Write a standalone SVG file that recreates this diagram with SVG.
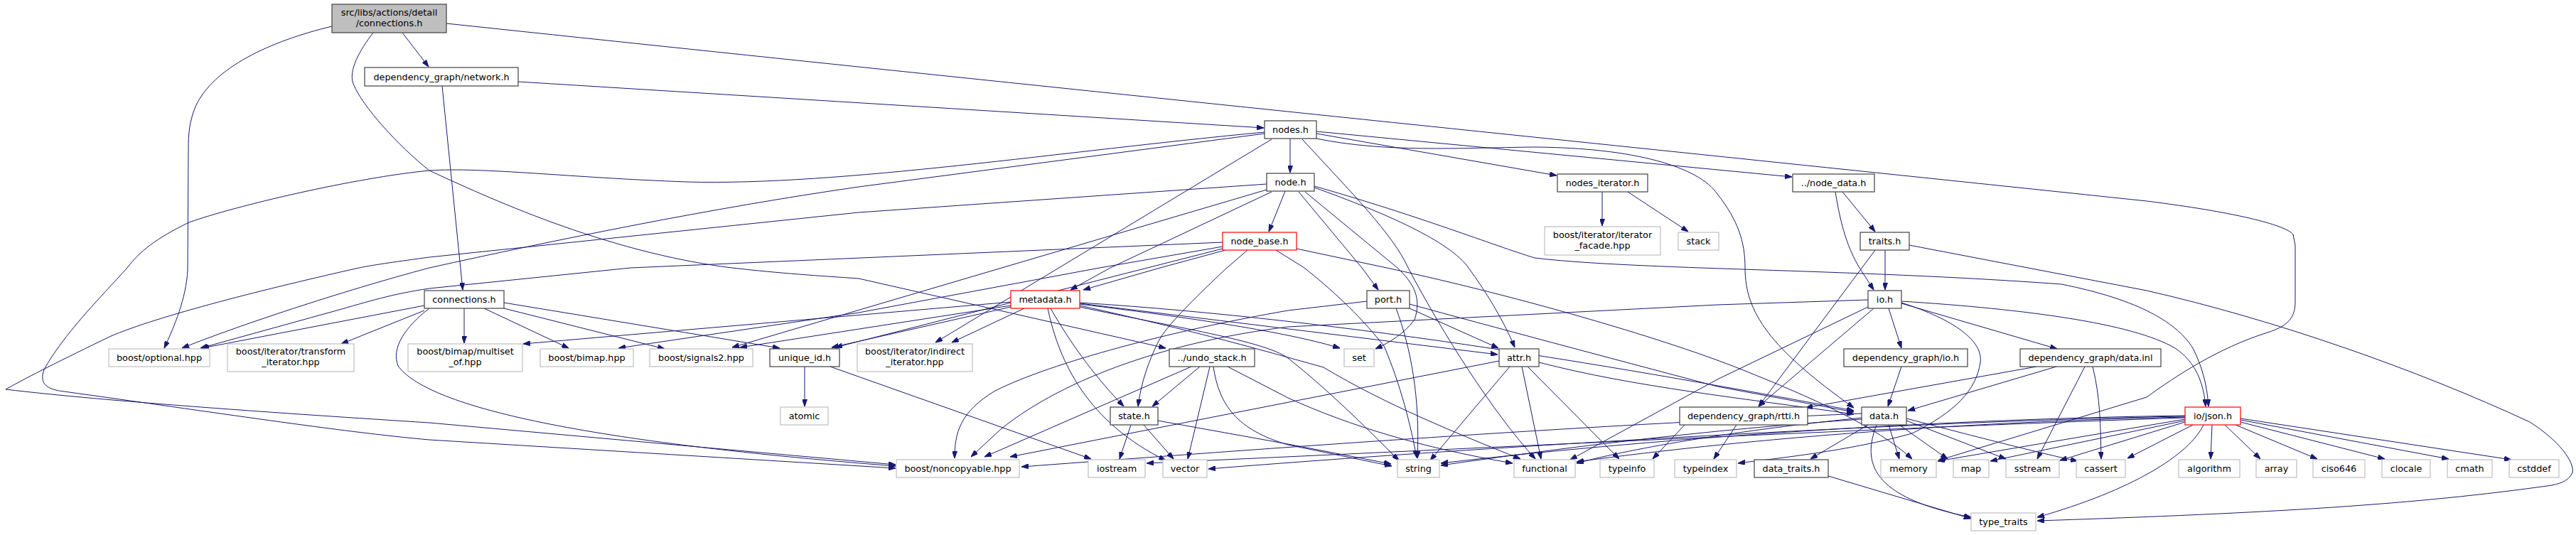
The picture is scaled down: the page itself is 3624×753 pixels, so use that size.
<svg xmlns="http://www.w3.org/2000/svg" width="3624" height="753" viewBox="0 0 3624 753">
<defs>
<marker id="a" markerWidth="10" markerHeight="7" refX="10" refY="3.5" orient="auto" markerUnits="userSpaceOnUse"><path d="M0,0L10,3.5L0,7z" fill="#191970" stroke="#191970" stroke-width="1"/></marker>
<style>
rect{fill:#fff;stroke:#404040;stroke-width:1.2}
.g rect{stroke:#bfbfbf}
.r rect{stroke:#ff0000}
.top rect{fill:#bfbfbf}
text{font-family:"DejaVu Sans",sans-serif;font-size:12.8px;text-anchor:middle;fill:#000}
#edges path{fill:none;stroke:#191970;stroke-width:1;marker-end:url(#a)}
</style>
</defs>
<rect x="0" y="0" width="3624" height="753" style="fill:#fff;stroke:none"/>
<g id="edges">
<path d="M566,46 L603,94"/>
<path d="M467,37 C380,58 300,95 275,150 C266,172 265,190 265,210 L264,380 C262,420 245,460 231,490"/>
<path d="M525,46 C505,72 490,100 497,118 C510,150 560,205 604,240 C680,275 850,355 1030,377 C1100,385 1150,388 1208,392 L1640,490"/>
<path d="M628,33 C1400,115 2500,228 3020,283 C3140,298 3215,316 3226,330 L3229,345 L3229,425 C3229,450 3215,460 3190,468 C3120,490 3060,530 3020,559 L2727,648"/>
<path d="M729,115 L1778,180"/>
<path d="M622,121 L651,408"/>
<path d="M1815,195 L1815,243"/>
<path d="M1852,188 L2190,247"/>
<path d="M1852,185 L2521,249"/>
<path d="M1779,188 L1208,263 C1000,293 780,338 604,377 C480,410 330,460 256,490"/>
<path d="M1779,186 C1500,212 1180,262 966,256 C800,250 680,235 604,240 C500,250 330,290 266,313 C220,335 195,355 179,377 C140,420 90,470 62,520 C55,540 65,548 90,551 C300,580 480,608 604,619 L1260,659"/>
<path d="M1789,196 L1316,482"/>
<path d="M1832,196 C1900,270 1960,330 1981,377 C2030,470 2100,580 2160,646"/>
<path d="M1852,195 C1950,215 2050,208 2159,207 C2300,208 2390,235 2416,273 C2445,310 2455,340 2455,377 C2455,440 2490,490 2608,574"/>
<path d="M1808,269 L1785,326"/>
<path d="M1782,259 L1208,299 L604,362 C560,368 530,372 505,377 C380,405 220,445 154,474 C90,505 40,530 8,548 C150,565 400,582 604,595 L1260,654"/>
<path d="M1789,270 L1562,377 L1506,408"/>
<path d="M1782,267 L1030,489"/>
<path d="M1827,270 L1916,377 L1939,408"/>
<path d="M1836,270 L1966,377 C1990,400 2000,420 1990,450 C1975,470 1955,482 1935,491"/>
<path d="M1849,264 C1950,300 2040,340 2066,377 C2090,410 2115,450 2131,489"/>
<path d="M1849,262 C2000,305 2100,345 2159,363 C2300,380 2600,378 2900,400 C3000,420 3060,450 3085,490 C3100,520 3105,545 3107,572"/>
<path d="M1720,341 L887,377 L604,406 C550,414 520,424 470,438 L282,490"/>
<path d="M1724,352 L1632,377 L1524,408"/>
<path d="M1755,352 L1726,377 C1680,420 1640,460 1630,480 C1615,510 1605,540 1601,572"/>
<path d="M1720,347 L1547,377 L1208,440 L870,490"/>
<path d="M1720,350 L1175,489"/>
<path d="M1795,352 L1835,377 C1870,405 1910,440 1947,487 C1970,540 1985,600 1993,644"/>
<path d="M1824,350 L1951,377 C2150,420 2350,480 2450,520 C2550,560 2640,600 2690,646"/>
<path d="M1441,434 L1339,482"/>
<path d="M1478,434 C1510,490 1545,535 1581,572"/>
<path d="M1474,434 C1490,510 1530,594 1640,648"/>
<path d="M1422,425 L736,484"/>
<path d="M1422,430 L1041,489"/>
<path d="M1422,432 L1170,489"/>
<path d="M1519,428 C1700,450 1820,470 1885,490"/>
<path d="M1519,427 L2107,499"/>
<path d="M1519,430 C1700,470 1800,500 1862,517 C1950,570 2050,610 2139,646"/>
<path d="M1519,432 C1650,460 1780,480 1812,504 C1870,550 1920,600 1968,648"/>
<path d="M1519,426 C1900,450 2300,520 2608,578"/>
<path d="M1983,434 L2108,490"/>
<path d="M1964,434 C1985,490 1998,560 1994,645"/>
<path d="M1923,424 L1812,437 C1650,465 1480,510 1400,550 C1350,580 1343,610 1343,645"/>
<path d="M1983,428 C2100,460 2250,500 2416,544 L2608,580"/>
<path d="M2109,508 L1421,643"/>
<path d="M2124,516 L2012,648"/>
<path d="M2141,516 L2168,646"/>
<path d="M2149,516 L2278,646"/>
<path d="M2165,510 C2300,545 2450,560 2608,583"/>
<path d="M1688,516 L1621,572"/>
<path d="M1676,516 L1385,643"/>
<path d="M1702,516 L1671,646"/>
<path d="M1707,516 C1715,570 1740,605 1812,626 L1958,656"/>
<path d="M1727,516 L1812,560 C1900,600 2000,630 2128,652"/>
<path d="M1591,598 L1575,646"/>
<path d="M1609,598 L1651,646"/>
<path d="M1629,592 L1812,625 L1957,653"/>
<path d="M1132,516 L1132,572"/>
<path d="M1168,516 L1535,646"/>
<path d="M597,430 L284,490"/>
<path d="M597,437 L480,484"/>
<path d="M653,434 L653,483"/>
<path d="M681,434 L800,490"/>
<path d="M709,434 L935,491"/>
<path d="M709,426 L1097,490"/>
<path d="M604,434 C570,460 550,490 560,515 C600,570 800,620 1260,656"/>
<path d="M2628,422 L2416,429 L1812,460 C1650,480 1500,530 1408,604 L1366,643"/>
<path d="M2628,432 L2416,534 L2209,647"/>
<path d="M2636,434 L2474,572"/>
<path d="M2657,434 L2675,490"/>
<path d="M2675,427 L2894,491"/>
<path d="M2675,424 C2850,435 3000,455 3060,490 C3090,510 3100,540 3103,572"/>
<path d="M2675,426 C2750,450 2790,480 2786,510 C2780,550 2750,580 2690,610 C2600,635 2500,645 2445,652"/>
<path d="M2675,516 L2656,572"/>
<path d="M2893,516 L2684,578"/>
<path d="M2865,516 L2540,574"/>
<path d="M2933,516 L2866,646"/>
<path d="M2944,516 C2955,560 2955,600 2956,646"/>
<path d="M2628,598 L2547,646"/>
<path d="M2657,598 L2672,646"/>
<path d="M2672,598 L2740,646"/>
<path d="M2682,592 L2822,646"/>
<path d="M2682,589 C2800,620 2880,640 2923,649"/>
<path d="M2640,598 C2620,650 2630,700 2773,728"/>
<path d="M2619,590 C2400,605 2200,630 2027,655"/>
<path d="M2619,588 C2450,605 2300,630 2218,652"/>
<path d="M2619,582 C2200,600 1800,630 1437,657"/>
<path d="M2370,598 L2325,646"/>
<path d="M2443,598 L2411,646"/>
<path d="M2572,670 L2773,730"/>
<path d="M2652,352 L2652,408"/>
<path d="M2638,352 L2474,572"/>
<path d="M2686,345 L3020,409 C3200,450 3400,520 3559,594 C3600,620 3622,650 3619,665 C3615,675 3605,680 3590,683 C3400,710 3200,722 2866,733"/>
<path d="M2592,270 L2638,326"/>
<path d="M2582,270 C2590,320 2600,350 2616,377 L2636,408"/>
<path d="M3112,598 L3110,646"/>
<path d="M3130,598 L3180,646"/>
<path d="M3145,598 L3260,646"/>
<path d="M3152,594 L3355,646"/>
<path d="M3152,591 L3445,646"/>
<path d="M3152,589 L3533,647"/>
<path d="M3085,598 L2993,645"/>
<path d="M3074,594 L2898,648"/>
<path d="M3074,592 L2800,649"/>
<path d="M3074,590 L2726,649"/>
<path d="M3100,598 C3080,640 3000,690 2866,728"/>
<path d="M3074,586 C2800,590 2200,620 1700,660"/>
<path d="M3074,585 C2700,590 2300,620 2027,652"/>
<path d="M3074,587 C2700,595 2400,625 2218,650"/>
<path d="M3074,588 C2700,600 2100,630 1613,652"/>
<path d="M2254,270 L2254,318"/>
<path d="M2290,270 L2375,326"/>
</g>
<g id="n_top" class="top"><rect x="467" y="6" width="161" height="40"/><text x="547.5" y="21.5">src/libs/actions/detail</text><text x="547.5" y="36.5">/connections.h</text></g>
<g id="n_network"><rect x="513" y="95" width="216" height="26"/><text x="621" y="112.5">dependency_graph/network.h</text></g>
<g id="n_nodes"><rect x="1779" y="170" width="73" height="25"/><text x="1815.5" y="187">nodes.h</text></g>
<g id="n_node"><rect x="1782" y="244" width="67" height="25"/><text x="1815.5" y="261">node.h</text></g>
<g id="n_node_base" class="r"><rect x="1720" y="327" width="104" height="25"/><text x="1772" y="344">node_base.h</text></g>
<g id="n_nodes_iterator"><rect x="2191" y="245" width="127" height="25"/><text x="2254.5" y="262">nodes_iterator.h</text></g>
<g id="n_iterator_facade" class="g"><rect x="2173" y="319" width="163" height="40"/><text x="2254.5" y="334.5">boost/iterator/iterator</text><text x="2254.5" y="349.5">_facade.hpp</text></g>
<g id="n_stack" class="g"><rect x="2361" y="327" width="57" height="25"/><text x="2389.5" y="344">stack</text></g>
<g id="n_node_data"><rect x="2522" y="245" width="115" height="25"/><text x="2579.5" y="262">../node_data.h</text></g>
<g id="n_traits"><rect x="2617" y="327" width="69" height="25"/><text x="2651.5" y="344">traits.h</text></g>
<g id="n_connections"><rect x="597" y="409" width="112" height="25"/><text x="653" y="426">connections.h</text></g>
<g id="n_optional" class="g"><rect x="153" y="491" width="142" height="25"/><text x="224" y="508">boost/optional.hpp</text></g>
<g id="n_transform" class="g"><rect x="320" y="484" width="178" height="39"/><text x="409" y="499">boost/iterator/transform</text><text x="409" y="514">_iterator.hpp</text></g>
<g id="n_multiset" class="g"><rect x="574" y="484" width="161" height="39"/><text x="654.5" y="499">boost/bimap/multiset</text><text x="654.5" y="514">_of.hpp</text></g>
<g id="n_bimap" class="g"><rect x="760" y="491" width="131" height="25"/><text x="825.5" y="508">boost/bimap.hpp</text></g>
<g id="n_signals2" class="g"><rect x="914" y="491" width="145" height="25"/><text x="986.5" y="508">boost/signals2.hpp</text></g>
<g id="n_unique_id"><rect x="1083" y="491" width="98" height="25"/><text x="1132" y="508">unique_id.h</text></g>
<g id="n_atomic" class="g"><rect x="1098" y="573" width="67" height="25"/><text x="1131.5" y="590">atomic</text></g>
<g id="n_indirect" class="g"><rect x="1206" y="484" width="162" height="39"/><text x="1287" y="499">boost/iterator/indirect</text><text x="1287" y="514">_iterator.hpp</text></g>
<g id="n_metadata" class="r"><rect x="1422" y="409" width="97" height="25"/><text x="1470.5" y="426">metadata.h</text></g>
<g id="n_undo_stack"><rect x="1645" y="491" width="120" height="25"/><text x="1705" y="508">../undo_stack.h</text></g>
<g id="n_state"><rect x="1562" y="573" width="67" height="25"/><text x="1595.5" y="590">state.h</text></g>
<g id="n_noncopyable" class="g"><rect x="1261" y="647" width="173" height="25"/><text x="1347.5" y="664">boost/noncopyable.hpp</text></g>
<g id="n_iostream" class="g"><rect x="1531" y="647" width="80" height="25"/><text x="1571" y="664">iostream</text></g>
<g id="n_vector" class="g"><rect x="1636" y="647" width="62" height="25"/><text x="1667" y="664">vector</text></g>
<g id="n_port"><rect x="1923" y="409" width="60" height="25"/><text x="1953" y="426">port.h</text></g>
<g id="n_set" class="g"><rect x="1891" y="491" width="42" height="25"/><text x="1912" y="508">set</text></g>
<g id="n_attr"><rect x="2109" y="491" width="56" height="25"/><text x="2137" y="508">attr.h</text></g>
<g id="n_string" class="g"><rect x="1966" y="647" width="59" height="25"/><text x="1995.5" y="664">string</text></g>
<g id="n_functional" class="g"><rect x="2130" y="647" width="86" height="25"/><text x="2173" y="664">functional</text></g>
<g id="n_typeinfo" class="g"><rect x="2251" y="647" width="76" height="25"/><text x="2289" y="664">typeinfo</text></g>
<g id="n_typeindex" class="g"><rect x="2356" y="647" width="87" height="25"/><text x="2399.5" y="664">typeindex</text></g>
<g id="n_rtti"><rect x="2363" y="573" width="180" height="25"/><text x="2453" y="590">dependency_graph/rtti.h</text></g>
<g id="n_io"><rect x="2628" y="409" width="47" height="25"/><text x="2651.5" y="426">io.h</text></g>
<g id="n_dg_io"><rect x="2594" y="491" width="174" height="25"/><text x="2681" y="508">dependency_graph/io.h</text></g>
<g id="n_data_inl"><rect x="2842" y="491" width="198" height="25"/><text x="2941" y="508">dependency_graph/data.inl</text></g>
<g id="n_data"><rect x="2619" y="573" width="63" height="25"/><text x="2650.5" y="590">data.h</text></g>
<g id="n_data_traits"><rect x="2468" y="647" width="104" height="25"/><text x="2520" y="664">data_traits.h</text></g>
<g id="n_memory" class="g"><rect x="2646" y="647" width="78" height="25"/><text x="2685" y="664">memory</text></g>
<g id="n_map" class="g"><rect x="2748" y="647" width="50" height="25"/><text x="2773" y="664">map</text></g>
<g id="n_sstream" class="g"><rect x="2822" y="647" width="75" height="25"/><text x="2859.5" y="664">sstream</text></g>
<g id="n_cassert" class="g"><rect x="2921" y="647" width="69" height="25"/><text x="2955.5" y="664">cassert</text></g>
<g id="n_type_traits" class="g"><rect x="2773" y="722" width="91" height="25"/><text x="2818.5" y="739">type_traits</text></g>
<g id="n_json" class="r"><rect x="3074" y="573" width="78" height="25"/><text x="3113" y="590">io/json.h</text></g>
<g id="n_algorithm" class="g"><rect x="3065" y="647" width="86" height="25"/><text x="3108" y="664">algorithm</text></g>
<g id="n_array" class="g"><rect x="3174" y="647" width="57" height="25"/><text x="3202.5" y="664">array</text></g>
<g id="n_ciso646" class="g"><rect x="3254" y="647" width="73" height="25"/><text x="3290.5" y="664">ciso646</text></g>
<g id="n_clocale" class="g"><rect x="3351" y="647" width="68" height="25"/><text x="3385" y="664">clocale</text></g>
<g id="n_cmath" class="g"><rect x="3443" y="647" width="63" height="25"/><text x="3474.5" y="664">cmath</text></g>
<g id="n_cstddef" class="g"><rect x="3530" y="647" width="70" height="25"/><text x="3565" y="664">cstddef</text></g>
</svg>
